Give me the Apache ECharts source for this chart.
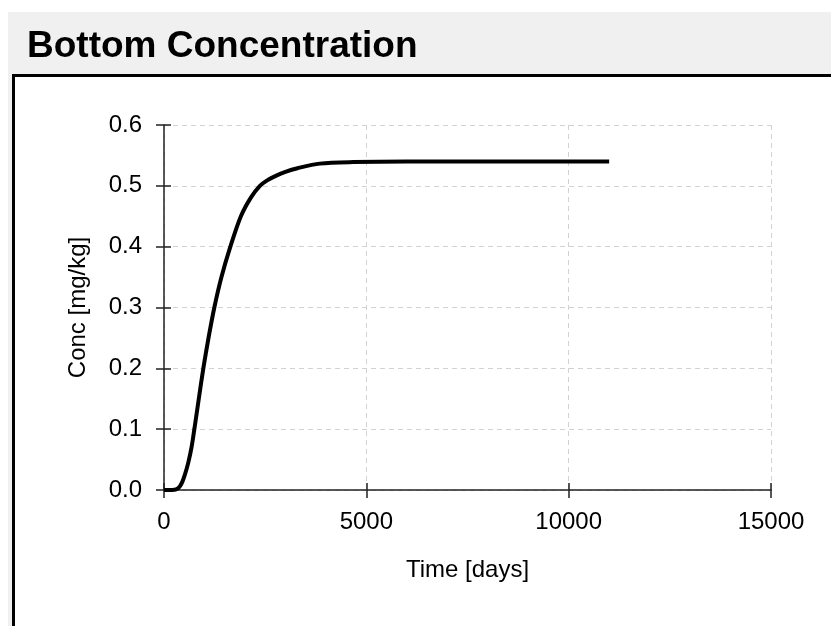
<!DOCTYPE html>
<html>
<head>
<meta charset="utf-8">
<script src="https://cdn.jsdelivr.net/npm/echarts@6/dist/echarts.min.js"></script>
<style>
html,body{margin:0;padding:0;background:#ffffff;}
#chart{width:831px;height:626px;}
</style>
</head>
<body>
<div id="chart"></div>
<script>
// Data
var timeDays = [0, 200, 300, 380, 450, 520, 600, 680, 750, 860, 972, 1100, 1244, 1420, 1640, 1900, 2150, 2370, 2550, 2750, 3000, 3300, 3850, 4670, 6000, 8000, 11000];
var concMgKg = [0, 0, 0.001, 0.005, 0.013, 0.026, 0.045, 0.07, 0.1, 0.15, 0.2, 0.25, 0.3, 0.35, 0.4, 0.45, 0.481, 0.5, 0.509, 0.516, 0.523, 0.529, 0.5365, 0.539, 0.54, 0.54, 0.54];
var titleText = 'Bottom Concentration';
var xName = 'Time [days]';
var yName = 'Conc [mg/kg]';

var points = timeDays.map(function (t, i) { return [t, concMgKg[i]]; });
var FONT = '"Liberation Sans", Arial, sans-serif';

var chart = echarts.init(document.getElementById('chart'), null, {renderer: 'canvas'});
chart.setOption({
  animation: false,
  backgroundColor: '#ffffff',
  graphic: [
    {type: 'rect', z: -10, silent: true, shape: {x: 8, y: 12, width: 900, height: 700}, style: {fill: '#f0f0f0'}},
    {type: 'rect', z: -9, silent: true, shape: {x: 13.5, y: 75.5, width: 900, height: 700}, style: {fill: '#ffffff', stroke: '#000000', lineWidth: 3}}
  ],
  title: {
    text: titleText,
    left: 27,
    top: 28,
    padding: 0,
    textStyle: {fontFamily: FONT, fontWeight: 'bold', fontSize: 37, color: '#000000'}
  },
  grid: {left: 164, right: 60, top: 125, bottom: 136, containLabel: false},
  xAxis: [{
    type: 'value', min: 0, max: 15000, interval: 5000,
    name: xName, nameLocation: 'middle', nameGap: 68,
    nameTextStyle: {fontFamily: FONT, fontSize: 24, color: '#000000'},
    axisLine: {show: true, onZero: false, lineStyle: {color: '#222222', width: 1.5}},
    axisTick: {show: true, inside: false, length: 8, lineStyle: {color: '#222222', width: 1.5}},
    axisLabel: {fontFamily: FONT, fontSize: 24, color: '#000000', margin: 20,
      formatter: function (v) { return String(v); }},
    splitLine: {show: true, lineStyle: {color: '#d2d2d2', type: [5, 4], width: 1}}
  }, {
    type: 'value', min: 0, max: 15000, interval: 5000, position: 'bottom',
    axisLine: {show: false}, axisLabel: {show: false}, splitLine: {show: false},
    axisTick: {show: true, inside: true, length: 7, lineStyle: {color: '#222222', width: 1.5}}
  }],
  yAxis: [{
    type: 'value', min: 0, max: 0.6, interval: 0.1,
    name: yName, nameLocation: 'middle', nameGap: 74, nameRotate: 90,
    nameTextStyle: {fontFamily: FONT, fontSize: 24, color: '#000000'},
    axisLine: {show: true, onZero: false, lineStyle: {color: '#222222', width: 1.5}},
    axisTick: {show: true, inside: false, length: 8, lineStyle: {color: '#222222', width: 1.5}},
    axisLabel: {fontFamily: FONT, fontSize: 24, color: '#000000', margin: 22,
      formatter: function (v) { return v.toFixed(1); }},
    splitLine: {show: true, lineStyle: {color: '#d2d2d2', type: [5, 4], width: 1}}
  }, {
    type: 'value', min: 0, max: 0.6, interval: 0.1, position: 'left',
    axisLine: {show: false}, axisLabel: {show: false}, splitLine: {show: false},
    axisTick: {show: true, inside: true, length: 7, lineStyle: {color: '#222222', width: 1.5}}
  }],
  series: [{
    type: 'line',
    xAxisIndex: 0, yAxisIndex: 0,
    data: points,
    smooth: 0.3,
    showSymbol: false,
    symbol: 'none',
    lineStyle: {color: '#000000', width: 4},
    z: 5
  }]
});
</script>
</body>
</html>
